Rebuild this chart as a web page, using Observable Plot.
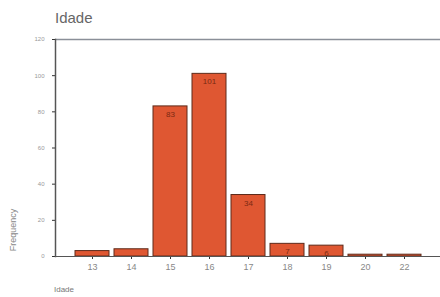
<!DOCTYPE html>
<html>
<head>
<meta charset="utf-8">
<script src="https://cdn.jsdelivr.net/npm/d3@7"></script>
<script src="https://cdn.jsdelivr.net/npm/@observablehq/plot@0.6"></script>
<style>
  body { margin: 0; background: #fff; font-family: "Liberation Sans", Arial, sans-serif; }
  #wrap { position: relative; width: 440px; height: 297px; overflow: hidden; }
  #title { position: absolute; left: 55px; top: 9px; font-size: 15px; color: #666; }
  #xlab { position: absolute; left: 54px; top: 285px; font-size: 8px; color: #777; }
  #ylab { position: absolute; left: 13px; top: 230px; font-size: 9px; color: #888;
          transform: translate(-50%, -50%) rotate(-90deg); white-space: nowrap; }
  svg { position: absolute; left: 0; top: 0; }
</style>
</head>
<body>
<div id="wrap">
  <div id="title">Idade</div>
  <div id="ylab">Frequency</div>
  <div id="xlab">Idade</div>
</div>
<script>
const ages = ["13", "14", "15", "16", "17", "18", "19", "20", "22"];
const counts = [3, 4, 83, 101, 34, 7, 6, 1, 1];
const barLabels = ["", "", "83", "101", "34", "7", "6", "", ""];
const yTicks = [0, 20, 40, 60, 80, 100, 120];

const data = ages.map((a, i) => ({age: a, count: counts[i], label: barLabels[i]}));

const chart = Plot.plot({
  width: 440,
  height: 297,
  marginTop: 39,
  marginBottom: 41,
  marginLeft: 55,
  marginRight: 0,
  style: {fontFamily: "Liberation Sans, Arial, sans-serif", background: "transparent"},
  x: {type: "band", domain: ages, range: [70, 426], paddingInner: 0.14, paddingOuter: 0.07, label: null},
  y: {domain: [0, 120], ticks: yTicks, label: null},
  marks: [
    Plot.ruleY([120], {stroke: "#8a8f98", strokeWidth: 1.5}),
    Plot.barY(data, {x: "age", y: "count", fill: "#df5732", stroke: "#5e2a1a", strokeWidth: 1}),
    Plot.text(data, {x: "age", y: "count", text: "label", dy: 8, fill: "#7a2a12", fontSize: 8}),
    Plot.axisX({tickSize: 3, tickPadding: 4, fontSize: 9, color: "#888", stroke: "#333"}),
    Plot.axisY({ticks: yTicks, tickSize: 3, tickPadding: 8, fontSize: 6, color: "#999", stroke: "#333"}),
    Plot.ruleY([0], {stroke: "#555", strokeWidth: 1}),
    Plot.frame({anchor: "left", stroke: "#555", strokeWidth: 1.5})
  ]
});
document.getElementById("wrap").prepend(chart);
</script>
</body>
</html>
